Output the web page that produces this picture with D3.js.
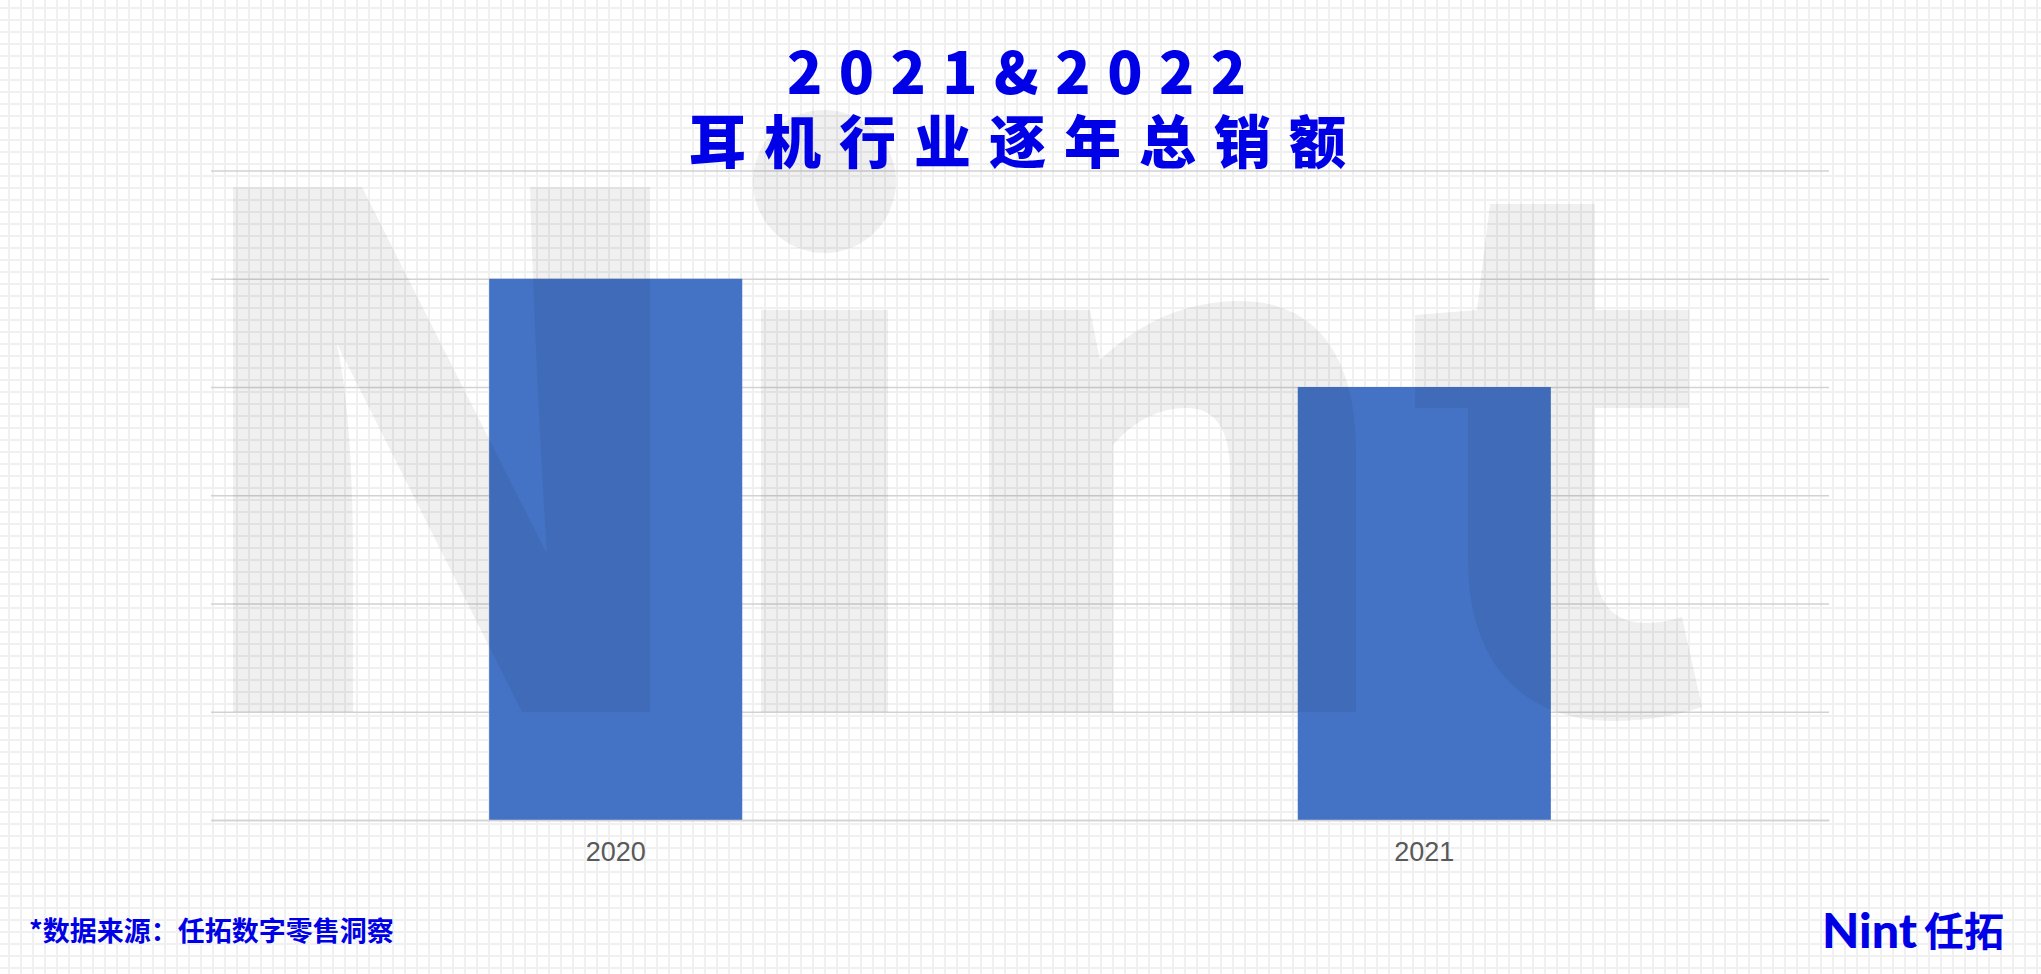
<!DOCTYPE html>
<html>
<head>
<meta charset="utf-8">
<script src="https://cdn.jsdelivr.net/npm/d3@7/dist/d3.min.js"></script>
<style>
  html, body { margin: 0; padding: 0; background: #ffffff; }
  svg { display: block; }
</style>
</head>
<body>
<svg id="chart" width="2041" height="974"></svg>
<script>
// ---- data ----
const categories = ["2020", "2021"];
const salesValues = [50, 40];
const yTickValues = [0, 10, 20, 30, 40, 50, 60];
const titleLines = ["2021&2022", "耳机行业逐年总销额"];
const sourceNote = "*数据来源：任拓数字零售洞察";
const logoLatin = "Nint";
const logoCJK = "任拓";

// ---- layout ----
const W = 2041, H = 974;
const plot = { left: 211, right: 1829, top: 170.5, bottom: 820 };
const BLUE = "#0000e6";

const svg = d3.select("#chart");

// background grid pattern
const defs = svg.append("defs");
const pat = defs.append("pattern")
  .attr("id", "bggrid").attr("patternUnits", "userSpaceOnUse")
  .attr("width", 12).attr("height", 12)
  .attr("x", 2).attr("y", 1);
pat.append("rect").attr("width", 12).attr("height", 12).attr("fill", "#ffffff");
pat.append("rect").attr("x", 6).attr("y", 0).attr("width", 2).attr("height", 12).attr("fill", "#f0f0f0");
pat.append("rect").attr("x", 0).attr("y", 6).attr("width", 12).attr("height", 2).attr("fill", "#f0f0f0");
svg.append("rect").attr("width", W).attr("height", H).attr("fill", "url(#bggrid)");

// scales
const x = d3.scaleBand().domain(categories)
  .range([plot.left, plot.right])
  .paddingInner(0.687).paddingOuter(0.344);
const y = d3.scaleLinear().domain([0, d3.max(yTickValues)]).range([plot.bottom, plot.top]);

// horizontal gridlines
const yAxis = d3.axisLeft(y).tickValues(yTickValues)
  .tickSize(-(plot.right - plot.left)).tickFormat("");
const gy = svg.append("g").attr("transform", `translate(${plot.left},0)`).call(yAxis);
gy.select(".domain").remove();
gy.selectAll(".tick line").attr("stroke", "#d2d2d2").attr("stroke-width", 1.6);

// bars
svg.append("g").selectAll("rect")
  .data(categories.map((c, i) => ({ c, v: salesValues[i] })))
  .join("rect")
  .attr("x", d => x(d.c))
  .attr("y", d => y(d.v))
  .attr("width", x.bandwidth())
  .attr("height", d => y(0) - y(d.v))
  .attr("fill", "#4472c4");

// x axis
const xAxis = d3.axisBottom(x).tickSize(0).tickPadding(0);
const gx = svg.append("g").attr("transform", `translate(0,${plot.bottom})`).call(xAxis);
gx.select(".domain").attr("stroke", "#d2d2d2").attr("stroke-width", 1.6);
gx.selectAll(".tick text")
  .attr("y", 41).attr("dy", 0)
  .attr("fill", "#595959")
  .style("font-family", "'Liberation Sans', Arial, sans-serif")
  .style("font-size", "27px");

// watermark "Nint" (semi-transparent overlay)
const wm = svg.append("g").attr("fill", "#000").attr("fill-opacity", 0.058).attr("pointer-events", "none");
wm.append("path").attr("d",
  "M233,187 L362,187 L547,554 Q535,370 530,187 L650,187 L650,712 L522,712 L337,344 Q353,420 353,560 L353,712 L233,712 Z");
wm.append("path").attr("d", "M761,310 L888,310 L888,712 L761,712 Z");
wm.append("circle").attr("cx", 824.5).attr("cy", 181.5).attr("r", 71.5);
wm.append("path").attr("d",
  "M989,310 L1090,310 L1100,360 C1140,322 1185,301 1240,301 C1315,301 1356,355 1356,450 L1356,712 L1230,712 L1230,470 C1230,430 1215,408 1187,408 C1160,408 1135,420 1113,445 L1113,712 L989,712 Z");
wm.append("path").attr("d",
  "M1490,204 L1595,204 L1595,310 L1689,310 L1689,408 L1595,408 L1595,560 C1595,605 1615,623 1647,623 C1660,623 1672,620 1682,617 L1702,707 C1675,716 1645,721 1613,721 C1520,721 1468,660 1468,560 L1468,408 L1415,408 L1415,315 L1477,310 Z");

// title: one text element, two lines as tspans, spread to the reference widths
const title = svg.append("text")
  .attr("fill", BLUE)
  .style("font-family", "'Noto Sans CJK SC', 'Noto Sans', sans-serif")
  .style("font-weight", 900);
function spreadLine(txt, x0, x1, baseline, size) {
  const t = title.append("tspan")
    .attr("x", x0).attr("y", baseline)
    .style("font-size", size + "px")
    .text(txt);
  const w = t.node().getComputedTextLength();
  const n = Array.from(txt).length;
  const ls = ((x1 - x0) - w) / (n - 1);
  t.style("letter-spacing", ls + "px");
  return t;
}
spreadLine(titleLines[0], 787, 1246, 94, 58);
spreadLine(titleLines[1], 689, 1346, 163, 57);

// footer source note
svg.append("text")
  .attr("x", 29).attr("y", 941)
  .attr("fill", BLUE)
  .style("font-family", "'Noto Sans CJK SC', sans-serif")
  .style("font-weight", 700)
  .style("font-size", "27px")
  .text(sourceNote);

// logo
svg.append("text")
  .attr("x", 1822).attr("y", 948)
  .attr("fill", BLUE)
  .attr("textLength", 95).attr("lengthAdjust", "spacingAndGlyphs")
  .style("font-family", "Lato, 'Open Sans', sans-serif")
  .style("font-weight", 900)
  .style("font-size", "47px")
  .text(logoLatin);
svg.append("text")
  .attr("x", 1924).attr("y", 946)
  .attr("fill", BLUE)
  .attr("textLength", 80).attr("lengthAdjust", "spacingAndGlyphs")
  .style("font-family", "'Noto Sans CJK SC', sans-serif")
  .style("font-weight", 700)
  .style("font-size", "40px")
  .text(logoCJK);
</script>
</body>
</html>
